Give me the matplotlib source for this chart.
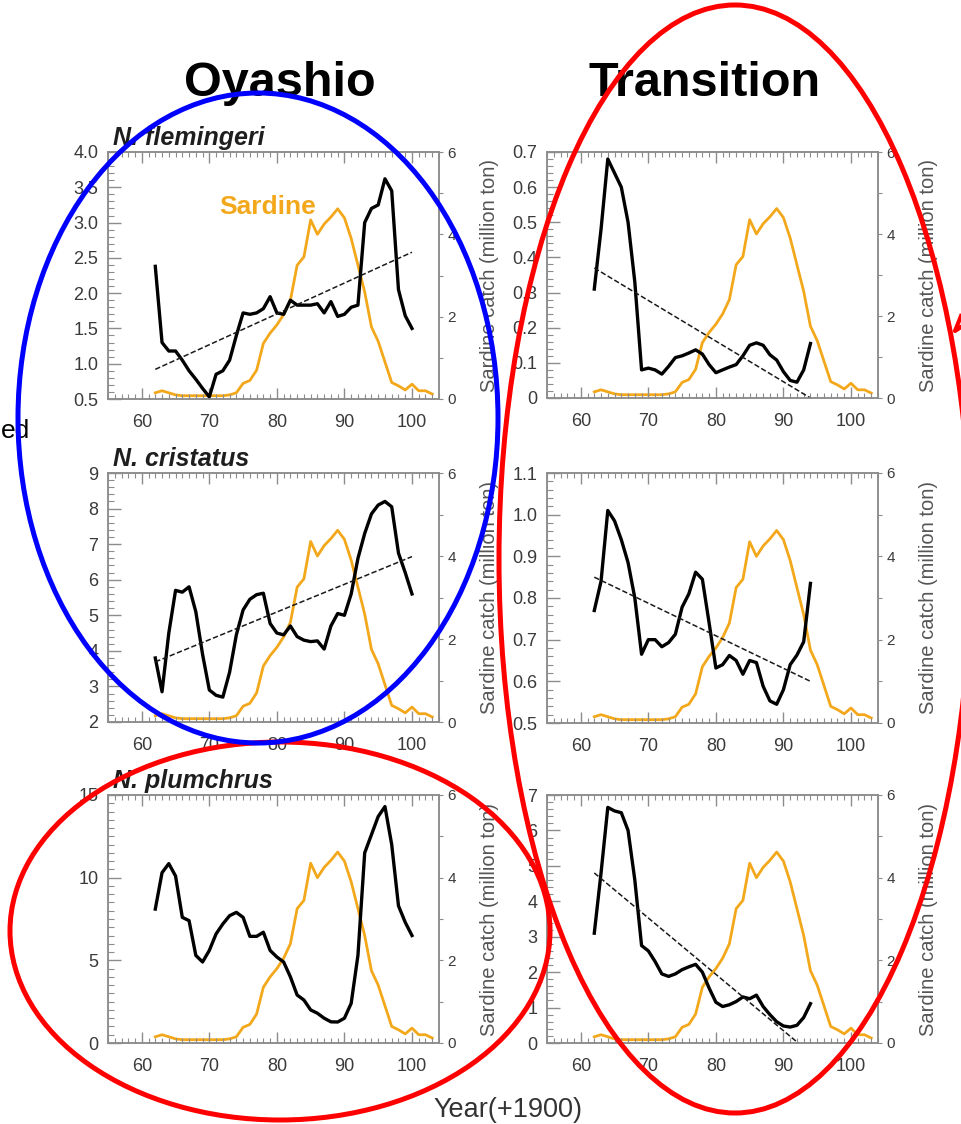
import numpy as np
import matplotlib.pyplot as plt
from matplotlib.patches import Ellipse
from matplotlib.lines import Line2D
from matplotlib.ticker import MultipleLocator, FixedLocator

plt.rcParams['font.family'] = ['Liberation Sans', 'DejaVu Sans']

# years (+1900)
years_oyashio = np.arange(62, 101)
years_transition = np.arange(62, 95)
years_sardine = np.arange(62, 104)

# sardine catch (million ton), same curve in every panel
sardine = [0.15, 0.2, 0.15, 0.1, 0.08, 0.08, 0.08, 0.08, 0.08, 0.08,
           0.08, 0.1, 0.15, 0.38, 0.45, 0.7, 1.35, 1.6, 1.8, 2.05,
           2.4, 3.25, 3.45, 4.35, 4.0, 4.25, 4.42, 4.62, 4.4, 3.9,
           3.25, 2.6, 1.75, 1.4, 0.9, 0.4, 0.32, 0.22, 0.36, 0.2,
           0.2, 0.12]

# Oyashio
flemingeri_oy = [2.38, 1.3, 1.18, 1.18, 1.05, 0.9, 0.78, 0.65, 0.53, 0.85,
                 0.9, 1.05, 1.4, 1.72, 1.7, 1.72, 1.78, 1.95, 1.72, 1.7,
                 1.9, 1.83, 1.83, 1.83, 1.85, 1.72, 1.88, 1.67, 1.7, 1.8,
                 1.83, 3.0, 3.2, 3.25, 3.62, 3.45, 2.05, 1.68, 1.5]
cristatus_oy = [3.8, 2.85, 4.5, 5.7, 5.65, 5.8, 5.1, 3.9, 2.9, 2.75,
                2.7, 3.4, 4.45, 5.15, 5.45, 5.58, 5.62, 4.77, 4.5, 4.45,
                4.7, 4.4, 4.3, 4.26, 4.28, 4.05, 4.7, 5.05, 5.0, 5.6,
                6.6, 7.3, 7.85, 8.1, 8.2, 8.05, 6.75, 6.2, 5.6]
plumchrus_oy = [8.1, 10.3, 10.85, 10.1, 7.6, 7.4, 5.3, 4.9, 5.6, 6.6,
                7.2, 7.7, 7.9, 7.6, 6.45, 6.45, 6.7, 5.6, 5.2, 4.9,
                4.0, 2.9, 2.6, 2.0, 1.8, 1.5, 1.28, 1.27, 1.5, 2.4,
                5.3, 11.5, 12.6, 13.7, 14.3, 12.0, 8.3, 7.3, 6.5]

# Transition
flemingeri_tr = [0.31, 0.48, 0.68, 0.64, 0.6, 0.5, 0.33, 0.08, 0.085, 0.08,
                 0.068, 0.09, 0.115, 0.12, 0.128, 0.137, 0.125, 0.095, 0.072, 0.08,
                 0.088, 0.095, 0.12, 0.15, 0.157, 0.15, 0.123, 0.108, 0.075, 0.05,
                 0.045, 0.08, 0.155]
cristatus_tr = [0.77, 0.84, 1.01, 0.985, 0.94, 0.885, 0.8, 0.665, 0.7, 0.7,
                0.683, 0.693, 0.713, 0.778, 0.81, 0.862, 0.845, 0.74, 0.632, 0.64,
                0.662, 0.65, 0.617, 0.65, 0.645, 0.588, 0.553, 0.545, 0.58, 0.64,
                0.663, 0.695, 0.835]
plumchrus_tr = [3.1, 4.8, 6.65, 6.55, 6.5, 6.0, 4.6, 2.75, 2.6, 2.3,
                1.95, 1.88, 1.95, 2.07, 2.15, 2.22, 2.0, 1.55, 1.15, 1.03,
                1.08, 1.17, 1.3, 1.25, 1.35, 1.03, 0.8, 0.6, 0.48, 0.45,
                0.5, 0.72, 1.11]

# linear trends (start / end year, start / end value)
trend_flem_oy = ([62, 100], [0.92, 2.58])
trend_cris_oy = ([62, 100], [3.69, 6.65])
trend_flem_tr = ([62, 94], [0.37, 0.0])
trend_cris_tr = ([62, 94], [0.85, 0.6])
trend_plum_tr = ([62, 92.5], [4.8, -0.05])

xticks = [60, 70, 80, 90, 100]
sardine_ticks = [0, 2, 4, 6]

ticks_flem_oy = [0.5, 1.0, 1.5, 2.0, 2.5, 3.0, 3.5, 4.0]
labels_flem_oy = ['0.5', '1.0', '1.5', '2.0', '2.5', '3.0', '3.5', '4.0']
ticks_cris_oy = [2, 3, 4, 5, 6, 7, 8, 9]
labels_cris_oy = ['2', '3', '4', '5', '6', '7', '8', '9']
ticks_plum_oy = [0, 5, 10, 15]
labels_plum_oy = ['0', '5', '10', '15']
ticks_flem_tr = [0, 0.1, 0.2, 0.3, 0.4, 0.5, 0.6, 0.7]
labels_flem_tr = ['0', '0.1', '0.2', '0.3', '0.4', '0.5', '0.6', '0.7']
ticks_cris_tr = [0.5, 0.6, 0.7, 0.8, 0.9, 1.0, 1.1]
labels_cris_tr = ['0.5', '0.6', '0.7', '0.8', '0.9', '1.0', '1.1']
ticks_plum_tr = [0, 1, 2, 3, 4, 5, 6, 7]
labels_plum_tr = ['0', '1', '2', '3', '4', '5', '6', '7']

ORANGE = '#F3A81C'
GRAY = '#8c8c8c'
TXT = '#3a3a3a'

W, H = 961, 1124
fig = plt.figure(figsize=(W / 100, H / 100), dpi=100)


def px_rect(x0, y0, x1, y1):
    return [x0 / W, 1 - y1 / H, (x1 - x0) / W, (y1 - y0) / H]


def panel(box, years, values, ticks, labels, minor, trend=None, title=None):
    ax = fig.add_axes(px_rect(*box))
    ax2 = ax.twinx()

    ax2.plot(years_sardine, sardine, color=ORANGE, lw=2.0)
    ax2.set_ylim(0, 6)
    ax2.set_yticks(sardine_ticks)
    ax2.yaxis.set_minor_locator(FixedLocator([1, 3, 5]))
    ax2.tick_params(axis='y', which='both', direction='out', length=3,
                    width=0.8, color=GRAY, labelsize=11, pad=3, labelcolor=TXT)
    ax2.set_ylabel('Sardine catch (million ton)', fontsize=14.5, color='#555555')
    ax2.yaxis.set_label_coords(1.125, 0.5)

    ax.plot(years, values, color='black', lw=2.4, solid_joinstyle='round')
    if trend is not None:
        ax.plot(trend[0], trend[1], color='#1a1a1a', lw=1.1, ls=(0, (3.5, 1.6)))

    ax.set_xlim(55, 104)
    ax.set_ylim(ticks[0], ticks[-1])
    ax.set_xticks(xticks)
    ax.xaxis.set_minor_locator(MultipleLocator(1))
    ax.set_yticks(ticks)
    ax.set_yticklabels(labels)
    ax.yaxis.set_minor_locator(MultipleLocator(minor))
    ax.tick_params(axis='x', which='major', direction='in', length=8, width=1.0,
                   color=GRAY, top=True, bottom=True, labelsize=13, pad=10.5,
                   labelcolor=TXT)
    ax.tick_params(axis='x', which='minor', direction='in', length=3.5, width=0.8,
                   color=GRAY, top=True, bottom=True)
    ax.tick_params(axis='y', which='major', direction='in', length=9, width=1.0,
                   color=GRAY, left=True, right=False, labelsize=13, pad=7,
                   labelcolor=TXT)
    ax.tick_params(axis='y', which='minor', direction='in', length=4, width=0.8,
                   color=GRAY, left=True, right=False)
    for a in (ax, ax2):
        for s in a.spines.values():
            s.set_color(GRAY)
            s.set_linewidth(1.1)

    ax.set_zorder(ax2.get_zorder() + 1)
    ax.patch.set_visible(False)

    if title:
        ax.text(0.015, 1.03, title, transform=ax.transAxes, fontsize=18,
                fontweight='bold', style='italic', va='baseline', color='#1e1e1e')
    return ax


ax_tl = panel((108, 152, 439, 399), years_oyashio, flemingeri_oy,
              ticks_flem_oy, labels_flem_oy, 0.1, trend_flem_oy, 'N. flemingeri')
ax_tl.text(71.5, 3.12, 'Sardine', color=ORANGE, fontsize=19, fontweight='bold',
           va='baseline')
panel((547, 152, 878, 398), years_transition, flemingeri_tr,
      ticks_flem_tr, labels_flem_tr, 0.02, trend_flem_tr)
panel((108, 473, 439, 722), years_oyashio, cristatus_oy,
      ticks_cris_oy, labels_cris_oy, 0.2, trend_cris_oy, 'N. cristatus')
panel((547, 473, 878, 723), years_transition, cristatus_tr,
      ticks_cris_tr, labels_cris_tr, 0.02, trend_cris_tr)
panel((108, 795, 439, 1043), years_oyashio, plumchrus_oy,
      ticks_plum_oy, labels_plum_oy, 0.5, None, 'N. plumchrus')
panel((547, 795, 878, 1043), years_transition, plumchrus_tr,
      ticks_plum_tr, labels_plum_tr, 0.2, trend_plum_tr)

# column headers and shared labels
fig.text(280 / W, 1 - 96 / H, 'Oyashio', ha='center', va='baseline',
         fontsize=35, fontweight='bold')
fig.text(705 / W, 1 - 96 / H, 'Transition', ha='center', va='baseline',
         fontsize=35, fontweight='bold')
fig.text(433 / W, 1 - 1117 / H, 'Year(+1900)', ha='left', va='baseline',
         fontsize=19.5, color='#333333')
fig.text(1 / W, 1 - 438 / H, 'ed', ha='left', va='baseline', fontsize=19)

# hand-drawn highlight ellipses
def ring(cx, cy, w, h, color):
    fig.add_artist(Ellipse((cx / W, 1 - cy / H), w / W, h / H, fill=False,
                           edgecolor=color, lw=3.6, transform=fig.transFigure,
                           clip_on=False, zorder=5))


ring(735, 559, 472, 1108, '#ff0000')
ring(280, 931, 540, 378, '#ff0000')
ring(258, 418, 480, 650, '#0000ff')
fig.add_artist(Line2D([961 / W, 955 / W, 961 / W],
                      [1 - 316 / H, 1 - 331 / H, 1 - 327 / H],
                      color='#ff0000', lw=3.0, transform=fig.transFigure,
                      zorder=5))

fig.savefig('out.png', dpi=100)
